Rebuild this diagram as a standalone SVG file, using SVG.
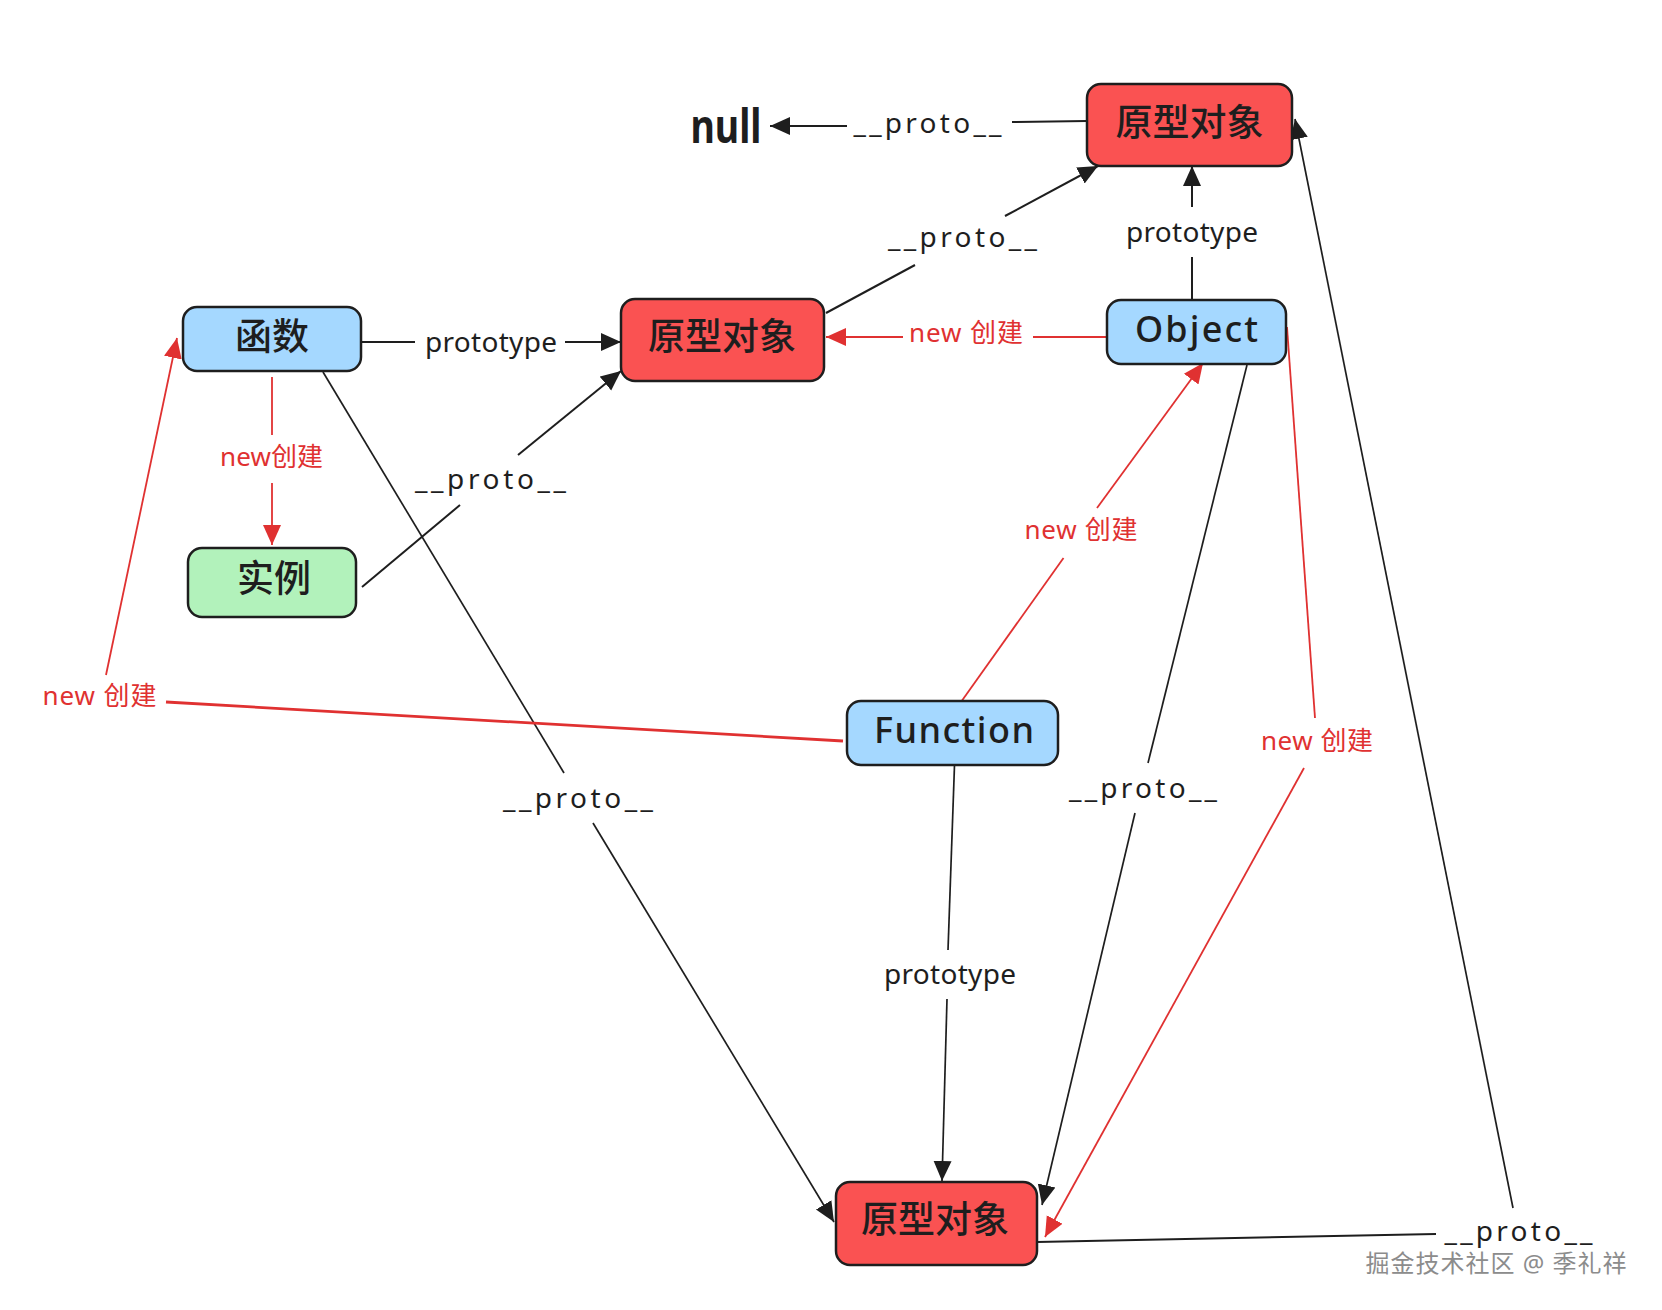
<svg xmlns="http://www.w3.org/2000/svg" width="1662" height="1310" viewBox="0 0 1662 1310">
  <style>
    .box { stroke: #1e1e1e; stroke-width: 2.5; }
    .blue { fill: #a5d8ff; }
    .red { fill: #fa5252; }
    .green { fill: #b2f2bb; }
    .nt { font-family: "Noto Sans", "Noto Sans CJK SC", sans-serif; font-size: 37px; font-weight: 500; fill: #1e1e1e; text-anchor: middle; }
    .nl { font-family: "Noto Sans", "Noto Sans CJK SC", sans-serif; font-size: 36px; font-weight: 500; fill: #1e1e1e; text-anchor: middle; }
    .k { fill: none; stroke: #1e1e1e; stroke-width: 2; }
    .kt { fill: none; stroke: #1e1e1e; stroke-width: 1.7; }
    .r { fill: none; stroke: #e03131; stroke-width: 1.8; }
    .rw { fill: none; stroke: #e03131; stroke-width: 2.8; }
    .lb { font-family: "Noto Sans", "Noto Sans CJK SC", sans-serif; font-size: 28px; fill: #1e1e1e; text-anchor: middle; }
    .lr { font-family: "Noto Sans", "Noto Sans CJK SC", sans-serif; font-size: 26px; fill: #e03131; text-anchor: middle; }
  </style>
  <defs>
    <marker id="ak" viewBox="0 0 20 20" refX="20" refY="10" markerWidth="20" markerHeight="20" markerUnits="userSpaceOnUse" orient="auto">
      <path d="M0,1 L20,10 L0,19 Z" fill="#1e1e1e"/>
    </marker>
    <marker id="ar" viewBox="0 0 20 20" refX="20" refY="10" markerWidth="20" markerHeight="20" markerUnits="userSpaceOnUse" orient="auto">
      <path d="M0,1 L20,10 L0,19 Z" fill="#e03131"/>
    </marker>
  </defs>
  <rect width="1662" height="1310" fill="#ffffff"/>

  <g id="connectors">
    <!-- top proto -> null -->
    <path class="k" d="M1087,121 L1012,122"/>
    <path class="k" d="M847,126 L770,126" marker-end="url(#ak)"/>
    <text class="lb" x="927.5" y="133" textLength="148">__proto__</text>

    <!-- mid proto -> top proto -->
    <path class="k" d="M826,313 L915,265"/>
    <path class="k" d="M1005,216 L1098,166" marker-end="url(#ak)"/>
    <text class="lb" x="962.5" y="247" textLength="149">__proto__</text>

    <!-- Object -> top proto (prototype) -->
    <path class="k" d="M1192,300 L1192,257"/>
    <path class="k" d="M1192,207 L1192,166" marker-end="url(#ak)"/>
    <text class="lb" x="1192" y="242" textLength="132">prototype</text>

    <!-- 函数 -> mid proto (prototype) -->
    <path class="k" d="M361,342 L415,342"/>
    <path class="k" d="M565,342 L621,342" marker-end="url(#ak)"/>
    <text class="lb" x="491" y="352" textLength="132">prototype</text>

    <!-- Object -> mid proto (new 创建) -->
    <path class="r" d="M1107,337 L1033,337"/>
    <path class="r" d="M903,337 L826,337" marker-end="url(#ar)"/>
    <text class="lr" x="966" y="342" textLength="114">new 创建</text>

    <!-- 函数 -> 实例 (new创建) -->
    <path class="r" d="M272,377 L272,435"/>
    <path class="r" d="M272,483 L272,545" marker-end="url(#ar)"/>
    <text class="lr" x="271.5" y="466" textLength="103">new创建</text>

    <!-- 实例 -> mid proto -->
    <path class="k" d="M362,587 L460,505"/>
    <path class="k" d="M518,455 L621,371" marker-end="url(#ak)"/>
    <text class="lb" x="490.5" y="489" textLength="151">__proto__</text>

    <!-- 函数 -> bottom proto -->
    <path class="kt" d="M323,372 L564,773"/>
    <path class="kt" d="M593,823 L834,1222" marker-end="url(#ak)"/>
    <text class="lb" x="578" y="808" textLength="150">__proto__</text>

    <!-- Function -> 函数 (new 创建) -->
    <path class="rw" d="M843,741 L166,702"/>
    <path class="r" d="M106,675 L177,338" marker-end="url(#ar)"/>
    <text class="lr" x="99.5" y="705" textLength="114">new 创建</text>

    <!-- Function -> Object (new 创建) -->
    <path class="r" d="M961,702 L1063.5,558"/>
    <path class="r" d="M1097,508 L1203,363" marker-end="url(#ar)"/>
    <text class="lr" x="1081" y="539" textLength="113">new 创建</text>

    <!-- Function -> bottom proto (prototype) -->
    <path class="kt" d="M954.5,765 L948,950"/>
    <path class="kt" d="M947,999 L942,1181" marker-end="url(#ak)"/>
    <text class="lb" x="950" y="984" textLength="132">prototype</text>

    <!-- Object -> bottom proto -->
    <path class="kt" d="M1247,365 L1148,763"/>
    <path class="kt" d="M1135,813 L1042,1205" marker-end="url(#ak)"/>
    <text class="lb" x="1143" y="798" textLength="148">__proto__</text>

    <!-- Object -> bottom proto (new 创建) -->
    <path class="r" d="M1287,327 L1315,718"/>
    <path class="r" d="M1304,768 L1045,1237" marker-end="url(#ar)"/>
    <text class="lr" x="1317" y="750" textLength="112">new 创建</text>

    <!-- bottom proto -> top proto -->
    <path class="k" d="M1037,1242 L1436,1234"/>
    <path class="kt" d="M1513,1208 L1295,119" marker-end="url(#ak)"/>
    <text class="lb" x="1518.5" y="1241" textLength="148">__proto__</text>
  </g>

  <g id="node-null">
    <text x="726" y="143" font-family="Noto Sans, sans-serif" font-size="46" font-weight="700" fill="#1e1e1e" text-anchor="middle" textLength="71" lengthAdjust="spacingAndGlyphs">null</text>
  </g>
  <g id="node-proto-top">
    <rect class="box red" x="1087" y="84" width="205" height="82" rx="14"/>
    <text class="nt" x="1189.5" y="136">原型对象</text>
  </g>
  <g id="node-func-cn">
    <rect class="box blue" x="183" y="307" width="178" height="64" rx="14"/>
    <text class="nt" x="272" y="350">函数</text>
  </g>
  <g id="node-proto-mid">
    <rect class="box red" x="621" y="299" width="203" height="82" rx="14"/>
    <text class="nt" x="722" y="350">原型对象</text>
  </g>
  <g id="node-object">
    <rect class="box blue" x="1107" y="300" width="179" height="64" rx="14"/>
    <text class="nl" x="1196.5" y="342" textLength="123">Object</text>
  </g>
  <g id="node-instance">
    <rect class="box green" x="188" y="548" width="168" height="69" rx="14"/>
    <text class="nt" x="274" y="592">实例</text>
  </g>
  <g id="node-function">
    <rect class="box blue" x="847" y="701" width="211" height="64" rx="14"/>
    <text class="nl" x="954" y="743" textLength="160">Function</text>
  </g>
  <g id="node-proto-bottom">
    <rect class="box red" x="836" y="1182" width="201" height="83" rx="14"/>
    <text class="nt" x="935" y="1233">原型对象</text>
  </g>

  <g id="watermark">
    <text x="1496" y="1272" font-family="Noto Sans, Noto Sans CJK SC, sans-serif" font-size="24" fill="#8c8c8c" text-anchor="middle" textLength="261">掘金技术社区 @ 季礼祥</text>
  </g>
</svg>
